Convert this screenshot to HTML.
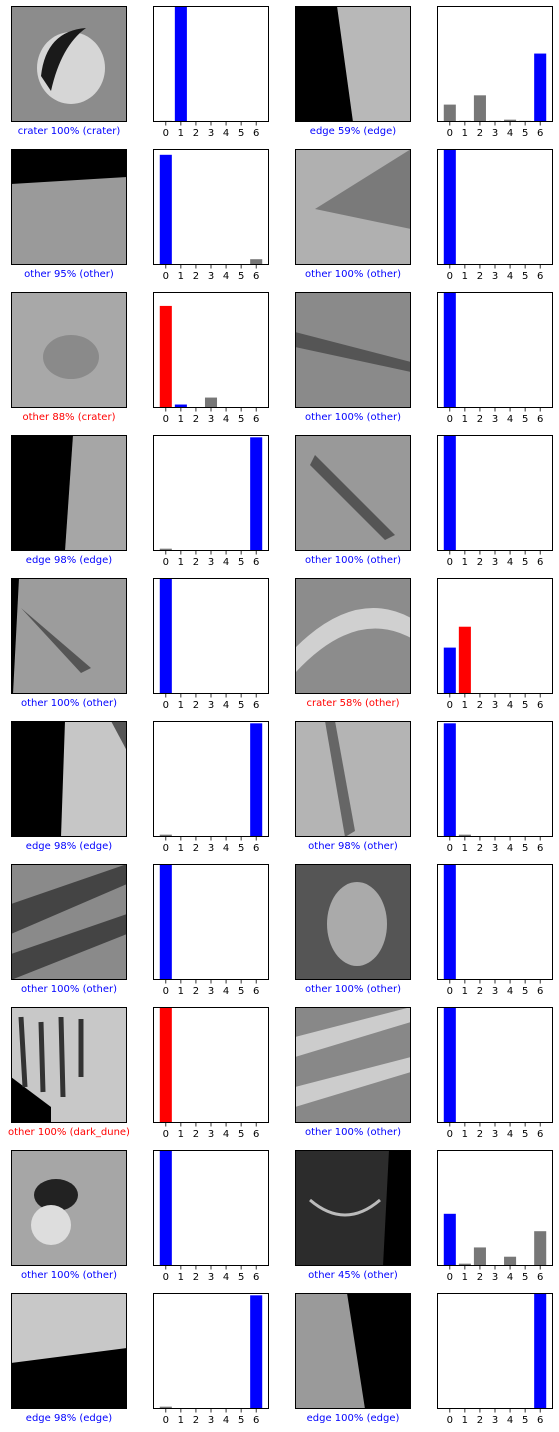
<!DOCTYPE html>
<html><head><meta charset="utf-8"><style>
body{margin:0;background:#fff;font-family:"DejaVu Sans","Liberation Sans",sans-serif}
svg{display:block}
</style></head><body>
<svg id="fig" width="559" height="1432" xmlns="http://www.w3.org/2000/svg"></svg>
<script>
const classes=[0,1,2,3,4,5,6];
const labels=["crater 100% (crater)","edge 59% (edge)","other 95% (other)","other 100% (other)","other 88% (crater)","other 100% (other)","edge 98% (edge)","other 100% (other)","other 100% (other)","crater 58% (other)","edge 98% (edge)","other 98% (other)","other 100% (other)","other 100% (other)","other 100% (dark_dune)","other 100% (other)","other 100% (other)","other 45% (other)","edge 98% (edge)","edge 100% (edge)"];
const correct=[1,1,1,1,0,1,1,1,1,0,1,1,1,1,0,1,1,1,1,1];
const probs=[
[0.01,1,0,0,0,0,0],[0.15,0.01,0.23,0.01,0.02,0.01,0.59],
[0.95,0,0,0,0,0,0.05],[1,0,0,0,0,0,0],
[0.88,0.03,0,0.09,0,0,0],[1,0,0,0,0,0,0],
[0.02,0,0,0,0,0,0.98],[1,0,0,0,0,0,0],
[1,0,0,0,0,0,0],[0.4,0.58,0,0,0,0,0],
[0.02,0,0,0,0,0,0.98],[0.98,0.02,0,0,0,0,0],
[1,0,0,0,0,0,0],[1,0,0,0,0,0,0],
[1,0,0,0,0,0,0],[1,0,0,0,0,0,0],
[1,0,0,0,0,0,0],[0.45,0.02,0.16,0,0.08,0,0.3],
[0.02,0,0,0,0,0,0.98],[0,0,0,0,0,0,1]];
const predIdx=[1,6,0,0,0,0,6,0,0,1,6,0,0,0,0,0,0,0,6,6];
const trueIdx=[1,6,0,0,1,0,6,0,0,0,6,0,0,0,-1,0,0,0,6,6];
const imgs=[
 ['#8c8c8c','<ellipse cx="60" cy="62" rx="34" ry="36" fill="#d6d6d6"/><path d="M30,70 Q35,25 75,22 Q50,40 40,85 Z" fill="#1a1a1a"/>'],
 ['#b8b8b8','<polygon points="0,0 42,0 58,116 0,116" fill="#000"/>'],
 ['#9a9a9a','<polygon points="0,0 116,0 116,28 0,35" fill="#000"/>'],
 ['#b0b0b0','<path d="M20,60 L116,0 L116,80 Z" fill="#7a7a7a"/>'],
 ['#a8a8a8','<ellipse cx="60" cy="65" rx="28" ry="22" fill="#8a8a8a"/>'],
 ['#8a8a8a','<path d="M0,40 L116,70 L116,80 L0,55 Z" fill="#555"/>'],
 ['#a6a6a6','<polygon points="0,0 62,0 54,116 0,116" fill="#000"/>'],
 ['#999','<path d="M20,20 L100,100 L90,105 L15,30 Z" fill="#555"/>'],
 ['#9c9c9c','<polygon points="0,0 8,0 2,116 0,116" fill="#000"/><path d="M10,30 L80,90 L70,95 Z" fill="#555"/>'],
 ['#8c8c8c','<path d="M0,70 Q60,10 116,40 L116,60 Q60,30 0,95 Z" fill="#d0d0d0"/>'],
 ['#c6c6c6','<polygon points="0,0 54,0 50,116 0,116" fill="#000"/><polygon points="100,0 116,0 116,30" fill="#555"/>'],
 ['#b4b4b4','<path d="M40,0 L60,110 L50,116 L30,0 Z" fill="#666"/>'],
 ['#8a8a8a','<path d="M0,40 L116,0 L116,20 L0,70 Z" fill="#444"/><path d="M0,90 L116,50 L116,70 L0,116 Z" fill="#444"/>'],
 ['#555','<ellipse cx="62" cy="60" rx="30" ry="42" fill="#aaa"/>'],
 ['#c8c8c8','<polygon points="0,70 40,100 40,116 0,116" fill="#000"/><path d="M10,10 L14,80 M30,15 L32,85 M50,10 L52,90 M70,12 L70,70" stroke="#333" stroke-width="5"/>'],
 ['#888','<path d="M0,30 L116,0 L116,15 L0,50 Z" fill="#ccc"/><path d="M0,80 L116,50 L116,65 L0,100 Z" fill="#ccc"/>'],
 ['#a6a6a6','<ellipse cx="45" cy="45" rx="22" ry="16" fill="#222"/><ellipse cx="40" cy="75" rx="20" ry="20" fill="#ddd"/>'],
 ['#2c2c2c','<polygon points="94,0 116,0 116,116 88,116" fill="#000"/><path d="M15,50 Q50,80 85,50" stroke="#bbb" stroke-width="3" fill="none"/>'],
 ['#c8c8c8','<polygon points="0,70 116,55 116,116 0,116" fill="#000"/>'],
 ['#9a9a9a','<polygon points="52,0 116,0 116,116 70,116" fill="#000"/>']
];
const svg=document.getElementById('fig');
const NS='http://www.w3.org/2000/svg';
function mk(tag,attrs,parent){const e=document.createElementNS(NS,tag);for(const k in attrs)e.setAttribute(k,attrs[k]);(parent||svg).appendChild(e);return e;}
const S=116, rowY=r=>6+r*143;
const imgX=[11,295], chX=[153,437];
const XMIN=-0.85, XMAX=6.85;
for(let i=0;i<20;i++){
  const r=Math.floor(i/2), c=i%2, y0=rowY(r);
  const g=mk('g',{transform:`translate(${imgX[c]},${y0})`});
  
  
  g.innerHTML=`<rect width="${S}" height="${S}" fill="${imgs[i][0]}"/>${imgs[i][1]}<rect x="0.5" y="0.5" width="${S-1}" height="${S-1}" fill="none" stroke="#000" stroke-width="1"/>`;
  const t=mk('text',{x:imgX[c]+S/2,y:y0+S+12,'text-anchor':'middle','font-size':'10',fill:correct[i]?'#0000ff':'#ff0000'});
  t.textContent=labels[i];
  
  
  const cx=chX[c];
  const xs=v=>cx+(v-XMIN)*S/(XMAX-XMIN), ys=v=>y0+S-v*S;
  const cg=mk('g',{});
  
  
  classes.forEach((k,j)=>{
    const v=probs[i][j];
    let col='#777777';
    if(j===predIdx[i]) col=correct[i]?'#0000ff':'#ff0000';
    if(j===trueIdx[i]) col='#0000ff';
    const b=mk('rect',{x:xs(k-0.4),y:ys(v),width:xs(k+0.4)-xs(k-0.4),height:y0+S-ys(v),fill:col},cg);
    
    
    mk('line',{x1:xs(k),x2:xs(k),y1:y0+S,y2:y0+S+3.5,stroke:'#000','stroke-width':0.8},cg);
    const tl=mk('text',{x:xs(k),y:y0+S+14,'text-anchor':'middle','font-size':'10'},cg);
    tl.textContent=k;
    
    
  });
  mk('rect',{x:cx+0.5,y:y0+0.5,width:S-1,height:S-1,fill:'none',stroke:'#000','stroke-width':1},cg);
}
</script>
</body></html>
